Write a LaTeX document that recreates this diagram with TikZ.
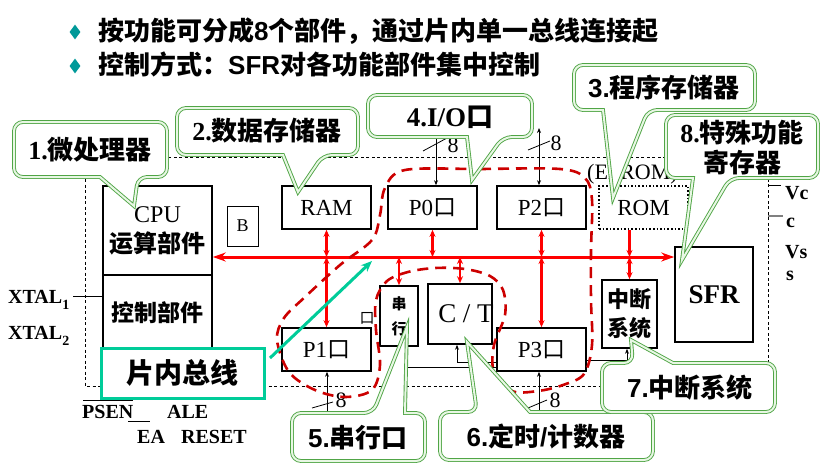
\documentclass[tikz,border=0pt]{standalone}
\usepackage{fontspec}
\setmainfont{Liberation Serif}
\newfontfamily\cjk{Noto Sans CJK SC}
\newfontfamily\hdrfont{Liberation Sans}
\usetikzlibrary{arrows.meta,shapes.geometric,calc}
\definecolor{busred}{RGB}{255,0,0}
\definecolor{grpred}{RGB}{204,0,0}
\definecolor{tealbul}{RGB}{0,153,153}
\definecolor{buslab}{RGB}{0,204,153}
\definecolor{callgreen}{RGB}{80,165,70}
\definecolor{callfill}{RGB}{232,247,228}
\newcommand\zh[1]{{\cjk #1}}
\newcommand\zhb[1]{{\cjk\bfseries #1}}
% callout with its tail on the lower edge: x1 y1 x2 y2 base1 base2 tipx tipy
\newcommand\calloutdown[8]{%
  \draw[callout] (#5,#4) [rounded corners=9pt] -- (#1,#4) -- (#1,#2) -- (#3,#2)
    -- (#3,#4) -- (#6,#4) [sharp corners] -- (#7,#8) -- cycle;}
% callout with its tail on the upper edge
\newcommand\calloutup[8]{%
  \draw[callout] (#6,#2) [rounded corners=9pt] -- (#3,#2) -- (#3,#4) -- (#1,#4)
    -- (#1,#2) -- (#5,#2) [sharp corners] -- (#7,#8) -- cycle;}
\begin{document}
\begin{tikzpicture}[x=1pt,y=-1pt,
  box/.style={draw,line width=1.6pt,inner sep=0pt,align=center,font=\fontsize{23}{28}\selectfont},
  thin/.style={line width=0.8pt},
  thinarr/.style={line width=0.8pt,-{Stealth[length=5pt,width=4pt]}},
  busline/.style={busred,line width=3pt,{Stealth[length=13pt,width=9pt]}-{Stealth[length=13pt,width=9pt]}},
  busarr/.style={busred,line width=2.2pt,{Stealth[length=7pt,width=6pt]}-{Stealth[length=7pt,width=6pt]}},
  group/.style={grpred,line width=2.6pt,dash pattern=on 11pt off 7pt},
  chip/.style={line width=0.7pt,dash pattern=on 3pt off 2.5pt},
  callout/.style={draw=callgreen,line width=0.9pt,double=callfill,double distance=2pt,fill=white},
  ctext/.style={font=\fontsize{26}{30}\selectfont\bfseries,align=center,inner sep=0pt},
  lbl/.style={font=\fontsize{20}{24}\selectfont\bfseries,inner sep=0pt},
  eight/.style={font=\fontsize{22}{24}\selectfont,inner sep=0pt},
]
\useasboundingbox (0,0) rectangle (830,464);

% ---- heading ----
\node[diamond,fill=tealbul,minimum width=11pt,minimum height=15pt,inner sep=0pt] (d1) at (75,32) {};
\node[diamond,fill=tealbul,minimum width=11pt,minimum height=15pt,inner sep=0pt] (d2) at (75,66) {};
\node[anchor=west,inner sep=0pt,font=\hdrfont\bfseries\fontsize{26}{30}\selectfont] (line1) at (98,31)
  {\zh{按功能可分成}8\zh{个部件，通过片内单一总线连接起}};
\node[anchor=west,inner sep=0pt,font=\hdrfont\bfseries\fontsize{26}{30}\selectfont] (line2) at (98,64)
  {\zh{控制方式：}SFR\zh{对各功能部件集中控制}};

% ---- chip outline ----
\draw[chip] (85,157) rectangle (768,386);

% ---- functional blocks ----
\node[box,minimum width=109,minimum height=89,font=\fontsize{24}{30}\selectfont] (cpuA) at (157.5,230.5) {CPU\\\zhb{运算部件}};
\node[box,minimum width=109,minimum height=76] (cpuB) at (157.5,313) {\zhb{控制部件}};
\node[box,line width=1pt,minimum width=31,minimum height=40,font=\fontsize{18}{20}\selectfont] (breg) at (242.5,226) {B};
\node[box,minimum width=89,minimum height=43] (ram) at (326.5,207.5) {RAM};
\node[box,minimum width=89,minimum height=43] (p0) at (432.5,207.5) {P0\zh{口}};
\node[box,minimum width=89,minimum height=43] (p2) at (541.5,207.5) {P2\zh{口}};
\node[box,dotted,line width=1.5pt,minimum width=89,minimum height=43] (rom) at (643.5,207.5) {ROM};
\node[anchor=west,inner sep=0pt,font=\fontsize{22}{26}\selectfont] (eprom) at (587,174) {(EPROM)};
\node[box,minimum width=78,minimum height=95,font=\fontsize{27}{30}\selectfont\bfseries] (sfr) at (714,294.5) {SFR};
\node[box,minimum width=38,minimum height=60,font=\cjk\bfseries\fontsize{15}{25}\selectfont] (sx) at (399,316) {串\\行};
\node[box,minimum width=64,minimum height=60,font=\fontsize{27}{28}\selectfont] (ct) at (460,314)
  {\hbox to 0pt{\hss\kern12pt C / T\hss}};
\node[box,minimum width=89,minimum height=43] (p1) at (326.5,349.5) {P1\zh{口}};
\node[box,minimum width=89,minimum height=43] (p3) at (541.5,349.5) {P3\zh{口}};
\node[box,minimum width=55,minimum height=68,font=\cjk\bfseries\fontsize{22}{29}\selectfont] (zd) at (629.5,314) {中断\\系统};
\node[inner sep=0pt,font=\cjk\fontsize{15}{16}\selectfont] (sxk) at (367,318) {口};

% ---- internal bus ----
\coordinate (busy) at (0,257);
\draw[busline] (cpuA.east |- busy) -- (sfr.west |- busy);
\draw[busarr] (ram.south) -- (ram.south |- busy);
\draw[busarr] (ram.south |- busy) -- (p1.north);
\draw[busarr] (p0.south) -- (p0.south |- busy);
\draw[busarr] (p2.south) -- (p2.south |- busy);
\draw[busarr] (p2.south |- busy) -- (p3.north);
\draw[busarr] (sx.north |- busy) -- (sx.north);
\draw[busarr] (ct.north |- busy) -- (ct.north);
\draw[busred,line width=2.2pt,-{Stealth[length=7pt,width=6pt]}] (zd.north |- rom.south) -- (zd.north |- busy);
\draw[busarr] (zd.north |- busy) -- (zd.north);

% ---- port pins ----
\coordinate (p0pin) at (436,138);
\draw[thinarr] (p0pin) -- (p0pin |- p0.north);
\draw[thin] (423,151) -- (447,138);
\node[eight] (n0) at (453,145) {8};
\coordinate (p2pin) at (539,128);
\draw[thin,{Stealth[length=5pt,width=4pt]}-{Stealth[length=5pt,width=4pt]}] (p2pin) -- (p2pin |- p2.north);
\draw[thin] (528,150) -- (550,141);
\node[eight] (n2) at (556,143) {8};
\coordinate (p1pin) at (327,412);
\draw[thinarr] (p1pin) -- (p1pin |- p1.south);
\draw[thin] (312,408) -- (333,402);
\node[eight] (n1) at (341,400) {8};
\coordinate (p3pin) at (539,412);
\draw[thinarr] (p3pin) -- (p3pin |- p3.south);
\draw[thin] (528,408) -- (547,400);
\node[eight] (n3) at (555,400) {8};

% ---- control wiring around P3 ----
\coordinate (sxw) at (404,367);
\draw[thin] (sxw |- sx.south) -- (sxw) -- (p3.west |- sxw);
\coordinate (ctw) at (457,362);
\draw[thinarr] (ctw) -- (ctw |- ct.south);
\draw[thin] (ctw) -- (p3.west |- ctw);
\coordinate (zdw) at (627,360);
\draw[thin] (p3.east |- zdw) -- (zdw);
\draw[thinarr] (zdw) -- (zdw |- zd.south);

% ---- external pins ----
\coordinate (xt) at (73,296);
\draw[thin] (xt) -- (xt -| cpuB.west);
\node[lbl,anchor=west] (xtal1) at (8,300) {XTAL\raisebox{-6pt}{\fontsize{14}{14}\selectfont 1}};
\node[lbl,anchor=west] (xtal2) at (8,336) {XTAL\raisebox{-6pt}{\fontsize{14}{14}\selectfont 2}};
\node[lbl,anchor=west] (psen) at (82,412) {PSEN};
\node[lbl,anchor=west] (ale) at (167,412) {ALE};
\node[lbl,anchor=west] (ea) at (137,437) {EA};
\node[lbl,anchor=west] (reset) at (181,437) {RESET};
\draw[thin] (83,400) -- (133,400);
\draw[thin] (128,421) -- (150,421);
\draw[thin] (768,185) -- (781,185);
\draw[line width=1.2pt,gray] (768,216) -- (783,216);
\node[lbl,anchor=west] (vc1) at (785,193) {Vc};
\node[lbl,anchor=west] (vc2) at (786,223) {c};
\node[lbl,anchor=west] (vs1) at (785,252) {Vs};
\node[lbl,anchor=west] (vs2) at (786,276) {s};

% ---- I/O port group ----
\draw[group] plot[smooth cycle,tension=0.55] coordinates {
  (405,170) (480,169) (560,169) (585,178) (592,200) (591,250) (591,300) (592,345)
  (584,374) (563,385) (538,391) (512,391) (494,372) (494,345) (505,315) (503,290)
  (490,276) (465,269) (435,268) (408,272) (387,281) (376,300) (376,330) (380,365)
  (372,390) (345,397) (315,390) (289,372) (277,340) (284,318) (305,297) (340,265)
  (372,240) (380,215) (385,188)};

% ---- bus label ----
\node[draw=buslab,line width=3pt,fill=white,minimum width=163,minimum height=50,inner sep=0pt,
  font=\cjk\bfseries\fontsize{28}{30}\selectfont] (onbus) at (182.5,373) {片内总线};
\coordinate (tealstart) at (270,358);
\coordinate (tealend) at (372,261);
\draw[buslab,line width=3pt,-{Stealth[length=11pt,width=9pt]}] (tealstart) -- (tealend);

% ---- callouts ----
\calloutdown{14}{122}{167}{177}{100}{138}{134}{206}
\node[ctext] (c1) at (90,150) {1.\zh{微处理器}};
\calloutdown{177}{108}{358}{155}{283}{323}{298}{192}
\node[ctext] (c2) at (267,131) {2.\zh{数据存储器}};
\calloutdown{368}{95}{532}{137}{467}{503}{472}{180}
\node[ctext,font=\fontsize{27}{29}\selectfont\bfseries] (c4) at (450,117) {4.I/O\zh{口}};
\calloutdown{574}{65}{755}{110}{603}{648}{613}{198}
\node[ctext] (c3) at (664,88) {\hdrfont 3.\zh{程序存储器}};
\calloutdown{666}{115}{818}{178}{693}{730}{682}{260}
\node[ctext] (c8) at (742,148) {8.\zh{特殊功能}\\\zh{寄存器}};
\calloutup{292}{413}{425}{461}{373}{405}{407}{327}
\node[ctext] (c5) at (358,438) {\hdrfont 5.\zh{串行口}};
\calloutup{440}{412}{653}{460}{477}{530}{467}{342}
\node[ctext] (c6) at (546,437) {\hdrfont 6.\zh{定时}/\zh{计数器}};
\calloutup{602}{363}{775}{412}{633}{673}{631}{340}
\node[ctext] (c7) at (690,388) {\hdrfont 7.\zh{中断系统}};
\end{tikzpicture}
\end{document}
